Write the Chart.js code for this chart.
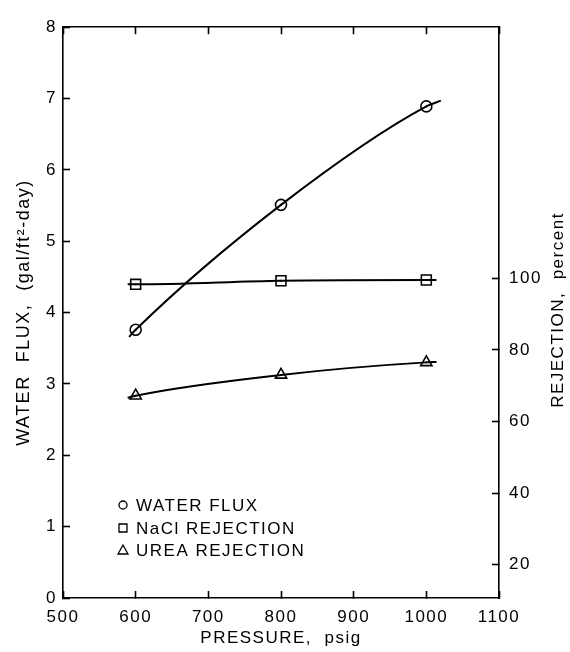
<!DOCTYPE html>
<html>
<head>
<meta charset="utf-8">
<script src="https://cdn.jsdelivr.net/npm/chart.js@4"></script>
<style>
  body { margin: 0; background: #fff; }
  #wrap { width: 570px; height: 652px; }
</style>
</head>
<body>
<div id="wrap"><canvas id="flux-chart"></canvas></div>
<script>
// measured points
var pressure = [600, 800, 1000];
var waterFlux = [3.76, 5.51, 6.89];
var naclRejection = [98.3, 99.3, 99.5];
var ureaRejection = [67.2, 73.0, 76.5];

// where the drawn curves start and stop
var fluxEnds = [[591, 3.66], [1020, 6.97]];
var naclEnds = [[589, 98.3], [1014, 99.5]];
var ureaEnds = [[589, 66.6], [1014, 76.6]];

var xTicks = [500, 600, 700, 800, 900, 1000, 1100];
var fluxTicks = [0, 1, 2, 3, 4, 5, 6, 7, 8];
var rejectionTicks = [20, 40, 60, 80, 100];

var legendLabels = ["WATER FLUX", "NaCl REJECTION", "UREA REJECTION"];

var FONT = "'Liberation Sans', Arial, sans-serif";

function points(xs, ys) {
    return xs.map(function (x, i) { return { x: x, y: ys[i] }; });
}
function curve(xs, ys, ends) {
    return [{ x: ends[0][0], y: ends[0][1] }]
        .concat(points(xs, ys))
        .concat([{ x: ends[1][0], y: ends[1][1] }]);
}

function lineSet(label, data, axis) {
    return {
        label: label, data: data, yAxisID: axis,
        borderColor: "#000", borderWidth: 2,
        pointRadius: 0, cubicInterpolationMode: "monotone", fill: false
    };
}
function markerSet(label, data, axis, style, r) {
    return {
        label: label, data: data, yAxisID: axis, showLine: false,
        pointStyle: style, pointRadius: r, pointBorderWidth: 1.6,
        pointBorderColor: "#000", pointBackgroundColor: "#fff", isMarker: true
    };
}
function plainLabel(v) { return String(v); }

var axisGrid = { drawOnChartArea: false, drawTicks: true, tickLength: -7, tickColor: "#000", tickWidth: 1.6 };
var axisBorder = { color: "#000", width: 1.6 };

// small dot inside each marker
var markerDots = {
    id: "markerDots",
    afterDatasetsDraw: function (chart) {
        var ctx = chart.ctx;
        chart.data.datasets.forEach(function (ds, i) {
            if (!ds.isMarker) return;
            chart.getDatasetMeta(i).data.forEach(function (p) {
                ctx.beginPath();
                ctx.arc(p.x, p.y, 1, 0, Math.PI * 2);
                ctx.fillStyle = "#000";
                ctx.fill();
            });
        });
    }
};

// letter spacing, right title (reads bottom to top) and the in-plot key
var extras = {
    id: "extras",
    beforeDraw: function (chart) {
        chart.ctx.letterSpacing = "1.5px";
    },
    afterDraw: function (chart) {
        var ctx = chart.ctx;
        ctx.save();
        ctx.fillStyle = "#000";
        ctx.strokeStyle = "#000";
        ctx.letterSpacing = "1.5px";

        ctx.save();
        ctx.translate(558, 310);
        ctx.rotate(-Math.PI / 2);
        ctx.font = "17px " + FONT;
        ctx.textAlign = "center";
        ctx.textBaseline = "middle";
        ctx.fillText("REJECTION,  percent", 0, 0);
        ctx.restore();

        var rowY = [505, 528, 550];
        ctx.lineWidth = 1.3;
        ctx.font = "17px " + FONT;
        ctx.textBaseline = "middle";
        ctx.textAlign = "left";
        legendLabels.forEach(function (txt, i) {
            var cx = 123, cy = rowY[i];
            ctx.beginPath();
            if (i === 0) ctx.arc(cx, cy, 4, 0, Math.PI * 2);
            else if (i === 1) ctx.rect(cx - 4, cy - 4, 8, 8);
            else { ctx.moveTo(cx, cy - 5); ctx.lineTo(cx + 5, cy + 4); ctx.lineTo(cx - 5, cy + 4); ctx.closePath(); }
            ctx.stroke();
            ctx.fillText(txt, 136, cy + 1);
        });
        ctx.restore();
    }
};

var ctx = document.getElementById("flux-chart");

var chartData = {
    datasets: [
        lineSet("water flux curve", curve(pressure, waterFlux, fluxEnds), "y"),
        lineSet("NaCl curve", curve(pressure, naclRejection, naclEnds), "y2"),
        lineSet("urea curve", curve(pressure, ureaRejection, ureaEnds), "y2"),
        markerSet("WATER FLUX", points(pressure, waterFlux), "y", "circle", 5.5),
        markerSet("NaCl REJECTION", points(pressure, naclRejection), "y2", "rect", 7),
        markerSet("UREA REJECTION", points(pressure, ureaRejection), "y2", "triangle", 6.5)
    ]
};

var config = {
    type: "line",
    data: chartData,
    plugins: [markerDots, extras],
    options: {
        responsive: true,
        maintainAspectRatio: false,
        animation: false,
        layout: { padding: 0 },
        plugins: { legend: { display: false }, tooltip: { enabled: false } },
        scales: {
            x: {
                type: "linear", position: "bottom", min: xTicks[0], max: xTicks[xTicks.length - 1],
                afterBuildTicks: function (s) { s.ticks = xTicks.map(function (v) { return { value: v }; }); },
                afterFit: function (s) { s.height = 54; },
                grid: axisGrid, border: axisBorder,
                ticks: { color: "#000", padding: 16, maxRotation: 0, callback: plainLabel, font: { family: FONT, size: 17 } },
                title: { display: true, text: "PRESSURE,  psig", color: "#000", padding: { top: 0, bottom: 3 }, font: { family: FONT, size: 17 } }
            },
            x2: {
                type: "linear", position: "top", min: xTicks[0], max: xTicks[xTicks.length - 1],
                afterBuildTicks: function (s) { s.ticks = xTicks.map(function (v) { return { value: v }; }); },
                afterFit: function (s) { s.height = 20; },
                grid: axisGrid, border: axisBorder,
                ticks: { display: false }
            },
            y: {
                type: "linear", position: "left", min: fluxTicks[0], max: fluxTicks[fluxTicks.length - 1],
                afterBuildTicks: function (s) { s.ticks = fluxTicks.map(function (v) { return { value: v }; }); },
                afterFit: function (s) { s.width = 63; },
                grid: axisGrid, border: axisBorder,
                ticks: { color: "#000", padding: 13, callback: plainLabel, font: { family: FONT, size: 17 } },
                title: { display: true, text: "WATER  FLUX,  (gal/ft²-day)", color: "#000", padding: { top: 13, bottom: 0 }, font: { family: FONT, size: 18 } }
            },
            y2: {
                type: "linear", position: "right", min: 10.7, max: 170.1,
                afterBuildTicks: function (s) { s.ticks = rejectionTicks.map(function (v) { return { value: v }; }); },
                afterFit: function (s) { s.width = 71; },
                grid: axisGrid, border: axisBorder,
                ticks: { color: "#000", padding: 17, callback: plainLabel, font: { family: FONT, size: 17 } }
            }
        }
    }
};

var fluxChart = new Chart(ctx, config);
</script>
</body>
</html>
